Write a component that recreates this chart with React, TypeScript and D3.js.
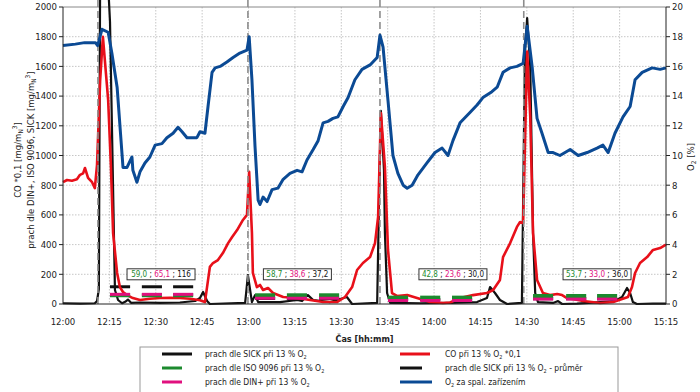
import React from "react";
import * as d3 from "d3";

const W = 700;
const H = 392;
const plot = { left: 63, right: 666, top: 7, bottom: 304 };
const FONT = "'DejaVu Sans Condensed', 'Liberation Sans Narrow', Arial, sans-serif";

// osa x: minuty od 12:00
const xTickLabels = ["12:00", "12:15", "12:30", "12:45", "13:00", "13:15", "13:30", "13:45", "14:00", "14:15", "14:30", "14:45", "15:00", "15:15"];
const leftTicks = [0, 200, 400, 600, 800, 1000, 1200, 1400, 1600, 1800, 2000];
const rightTicks = [0, 2, 4, 6, 8, 10, 12, 14, 16, 18, 20];

// O2 za spal. zarizenim [%]
const o2Data: [number, number][] = [
  [0, 17.4], [4, 17.5], [7, 17.6], [9, 17.6], [10.5, 17.6], [11.2, 17.4], [12.6, 18.5], [14.6, 18.3], [15.8, 16.9],
  [17.5, 14.6], [19.4, 9.2], [20.7, 9.2], [22.3, 9.9], [22.6, 9.0], [23.9, 8.2], [24.9, 8.9], [26.5, 9.5], [28.1, 9.9],
  [29.8, 10.7], [32.0, 10.8], [33.6, 11.2], [35.6, 11.5], [37.2, 11.9], [38.5, 11.6], [40.1, 11.2], [41.7, 11.2],
  [43.3, 11.2], [44.3, 11.6], [45.9, 11.5], [46.9, 13.3], [48.2, 15.6], [49.2, 15.9], [50.8, 16.0], [53.0, 16.3],
  [55.0, 16.6], [57.2, 16.9], [59.5, 17.1], [60.2, 18.0], [61.1, 15.1], [62.1, 10.6], [63.1, 7.0], [63.7, 6.7],
  [64.7, 7.2], [66.0, 6.9], [67.6, 7.7], [69.5, 7.8], [71.2, 8.4], [73.4, 8.8], [75.7, 9.0], [77.3, 8.9], [78.9, 9.7],
  [80.9, 10.4], [82.5, 11.0], [84.1, 12.2], [85.7, 12.3], [87.3, 12.5], [88.9, 12.6], [90.6, 13.3], [92.2, 13.9],
  [94.4, 15.1], [96.7, 15.8], [99.3, 16.1], [101.6, 16.6], [102.5, 18.1], [103.5, 17.3], [105.1, 13.7], [106.7, 10.0],
  [108.3, 8.8], [110, 8.0], [111.3, 7.8], [112.9, 8.0], [114.8, 8.7], [117.7, 9.5], [120.3, 10.2], [122.6, 10.5],
  [124.5, 10.0], [126.1, 11.0], [128.4, 12.2], [131.6, 12.9], [133.9, 13.4], [135.8, 13.9], [138.7, 14.3], [140.4, 14.6],
  [142.3, 15.6], [144.6, 15.9], [146.8, 16.0], [148.8, 16.2], [150.1, 18.7], [151.7, 16.0], [153.3, 12.5], [154.9, 11.5],
  [156.9, 10.2], [158.5, 10.2], [160.7, 10.0], [164.0, 10.4], [166.6, 10.0], [169.5, 10.2], [172.7, 10.5], [174.6, 10.7],
  [176.3, 10.2], [178.5, 11.5], [181.1, 12.6], [183.4, 13.3], [185.0, 15.1], [187.3, 15.6], [190.5, 15.9], [193.1, 15.8],
  [195, 15.9],
];

// CO pri 13 % O2 * 0,1
const coData: [number, number][] = [
  [0, 820], [1.3, 835], [2.9, 830], [4.5, 840], [5.5, 870], [6.5, 880], [7.1, 916], [8.1, 850], [9.4, 820], [10.3, 780],
  [11.0, 936], [12.0, 1500], [12.9, 1800], [14.6, 1374], [15.5, 923], [16.2, 478], [17.5, 209], [18.4, 114], [19.4, 81],
  [20.7, 60], [22.6, 40], [24.9, 27], [28.1, 35], [31.4, 40], [34.6, 42], [37.8, 40], [41.1, 35], [44.3, 25], [45.9, 13],
  [47.5, 250], [48.5, 276], [50.1, 296], [51.7, 343], [53.4, 410], [54.7, 451], [56.3, 498], [58.2, 566], [59.5, 600],
  [60.2, 890], [61.1, 478], [61.4, 209], [62.7, 114], [63.7, 128], [64.7, 94], [66.3, 108], [67.9, 74], [71.2, 47],
  [75.7, 40], [79.9, 27], [84.1, 13], [88.6, 13], [91.2, 47], [93.5, 114], [95.1, 229], [97.0, 276], [99.3, 316],
  [100.9, 410], [101.9, 586], [102.8, 1286], [104.1, 923], [105.1, 364], [106.4, 74], [108.0, 54], [111.3, 60],
  [114.5, 40], [118.7, 13], [122.9, 7], [125.2, 10], [128.4, 40], [132.6, 60], [137.1, 74], [139.1, 94], [141.3, 162],
  [142.3, 316], [144.6, 410], [146.8, 519], [147.8, 552], [148.8, 545], [150.1, 1700], [151.1, 1260], [152.0, 478],
  [153.3, 162], [155.2, 74], [157.5, 60], [159.8, 67], [161.4, 60], [163.0, 40], [168.2, 20], [173.7, 7], [177.9, 13],
  [180.8, 34], [182.7, 47], [184.0, 114], [185.0, 209], [186.6, 276], [188.9, 316], [190.8, 364], [193.1, 377], [195, 400],
];

// prach dle SICK pri 13 % O2
const sickData: [number, number][] = [
  [0, 5], [5.5, 3], [10.3, 5], [11.0, 20], [11.6, 100], [12.0, 2150], [14.6, 2150], [15.2, 1900], [16.8, 94], [17.8, 27],
  [19.1, 5], [20.1, 15], [21.0, 30], [22.0, 8], [24.9, 10], [31.4, 8], [37.8, 10], [42.7, 20], [44.3, 40], [45.3, 81],
  [46.6, 20], [47.5, 0], [58.9, 7], [59.8, 195], [61.1, 13], [62.1, 60], [63.1, 13], [70.2, 13], [75.7, 27], [77.3, 20],
  [79.2, 60], [80.9, 27], [86.4, 13], [91.8, 47], [93.5, 0], [101.6, 7], [102.2, 700], [102.8, 1300], [103.8, 900],
  [104.1, 478], [104.8, 74], [105.8, 7], [115.5, 5], [125.2, 8], [133.9, 13], [137.1, 40], [138.1, 114], [139.7, 74],
  [141.3, 27], [143.6, 0], [148.4, 7], [149.4, 1710], [150.1, 1925], [151.1, 1596], [152.0, 478], [152.7, 74],
  [153.6, 13], [158.5, 7], [160.1, 20], [161.4, 0], [166.2, 3], [173.7, 13], [178.5, 20], [180.8, 47], [182.4, 108],
  [183.4, 74], [184.3, 13], [185.6, 0], [190.8, 2], [195, 3],
];

const testStarts = [11.3, 59.8, 102.5, 149.0];
const windowStarts = [
  [15.2, 25.5, 35.6],
  [62.1, 72.4, 82.8],
  [105.1, 115.5, 125.8],
  [152.0, 162.7, 172.7],
];
const windowLen = 6.5;
const isoAvg = [59.0, 58.7, 42.8, 53.7];
const dinAvg = [65.1, 38.6, 23.6, 33.0];
const sickAvg = [116, 37.2, 30.0, 36.0];
const boxTimes = [31.7, 75.8, 126.1, 172.7];

const BLACK = "#111";
const RED = "#e8101a";
const BLUE = "#0b4a94";
const GREEN = "#1c8a2e";
const MAGENTA = "#e0107e";

const fmt = (v: number) => (v >= 100 ? d3.format(".0f")(v) : d3.format(".1f")(v)).replace(".", ",");

const Sub = ({ children }: { children: React.ReactNode }) => (
  <>
    <tspan dy={2} fontSize="0.7em">{children}</tspan>
    <tspan dy={-2}>{"\u200b"}</tspan>
  </>
);

export default function App() {
  const x = d3.scaleLinear().domain([0, 195]).range([plot.left, plot.right]);
  const yL = d3.scaleLinear().domain([0, 2000]).range([plot.bottom, plot.top]);
  const yR = d3.scaleLinear().domain([0, 20]).range([plot.bottom, plot.top]);

  const lineL = d3.line<[number, number]>().x(d => x(d[0])).y(d => yL(d[1]));
  const lineR = d3.line<[number, number]>().x(d => x(d[0])).y(d => yR(d[1]));

  const boxW = 68;
  const boxH = 11;

  const legendItems = [
    { col: 0, row: 0, color: BLACK, len: 30, label: ["prach dle SICK při 13 % O", "2", ""] },
    { col: 0, row: 1, color: GREEN, len: 20, label: ["prach dle ISO 9096 při 13 % O", "2", ""] },
    { col: 0, row: 2, color: MAGENTA, len: 20, label: ["prach dle DIN+ při 13 % O", "2", ""] },
    { col: 1, row: 0, color: RED, len: 30, label: ["CO při 13 % O", "2", " *0,1"] },
    { col: 1, row: 1, color: BLACK, len: 22, label: ["prach dle SICK při 13 % O", "2", " - průměr"] },
    { col: 1, row: 2, color: BLUE, len: 32, label: ["O", "2", " za spal. zařízením"] },
  ];

  return (
    <>
      <style>{`body{margin:0}`}</style>
      <svg width={W} height={H} style={{ display: "block", fontFamily: FONT, background: "#fff" }}>
        {/* grid */}
        <g stroke="#b8b8b8" strokeWidth={0.8} strokeDasharray="1.5,1.5">
          {leftTicks.slice(1, -1).map(t => (
            <line key={"gy" + t} x1={plot.left} x2={plot.right} y1={yL(t)} y2={yL(t)} />
          ))}
          {xTickLabels.slice(1, -1).map((_, i) => (
            <line key={"gx" + i} x1={x((i + 1) * 15)} x2={x((i + 1) * 15)} y1={plot.top} y2={plot.bottom} />
          ))}
        </g>
        <line x1={plot.left} x2={plot.right} y1={plot.top} y2={plot.top} stroke="#888" strokeWidth={1} />

        {/* prumer SICK */}
        {windowStarts.map((ws, p) =>
          ws.map((t, j) => (
            <line key={`sa${p}${j}`} x1={x(t)} x2={x(t + windowLen)} y1={yL(sickAvg[p])} y2={yL(sickAvg[p])}
              stroke={BLACK} strokeWidth={3} />
          ))
        )}

        <path d={lineL(sickData) || ""} fill="none" stroke={BLACK} strokeWidth={2.2} strokeLinejoin="round" />
        <path d={lineL(coData) || ""} fill="none" stroke={RED} strokeWidth={2.6} strokeLinejoin="round" />

        {/* zacatky zkousek */}
        {testStarts.map((t, i) => (
          <line key={"ts" + i} x1={x(t)} x2={x(t)} y1={0} y2={plot.bottom} stroke="#8c8c8c" strokeWidth={1.6}
            strokeDasharray="7,4" />
        ))}

        <path d={lineR(o2Data) || ""} fill="none" stroke={BLUE} strokeWidth={3} strokeLinejoin="round" />

        {/* ISO 9096 a DIN+ */}
        {windowStarts.map((ws, p) =>
          ws.map((t, j) => (
            <g key={`w${p}${j}`}>
              <line x1={x(t)} x2={x(t + windowLen)} y1={yL(isoAvg[p])} y2={yL(isoAvg[p])} stroke={GREEN} strokeWidth={4} />
              <line x1={x(t)} x2={x(t + windowLen)} y1={yL(dinAvg[p])} y2={yL(dinAvg[p])} stroke={MAGENTA} strokeWidth={3} />
            </g>
          ))
        )}

        {/* popisky prumeru */}
        {boxTimes.map((t, p) => (
          <g key={"b" + p} transform={`translate(${x(t)},${yL(200)})`}>
            <rect x={-boxW / 2} y={-boxH / 2} width={boxW} height={boxH} fill="#fff" stroke="#333" strokeWidth={1} />
            <text textAnchor="middle" dy="0.35em" fontSize={8} fill={BLACK}>
              <tspan fill={GREEN}>{fmt(isoAvg[p])}</tspan>
              <tspan>{" ; "}</tspan>
              <tspan fill={MAGENTA}>{fmt(dinAvg[p])}</tspan>
              <tspan>{" ; "}</tspan>
              <tspan>{fmt(sickAvg[p])}</tspan>
            </text>
          </g>
        ))}

        {/* osy */}
        <line x1={plot.left} x2={plot.left} y1={plot.top} y2={plot.bottom} stroke="#222" />
        <line x1={plot.right} x2={plot.right} y1={plot.top} y2={plot.bottom} stroke="#222" />
        <line x1={plot.left} x2={plot.right} y1={plot.bottom} y2={plot.bottom} stroke="#222" />
        <g fontSize={9.5} fill="#222">
          {leftTicks.map(t => (
            <g key={"lt" + t}>
              <line x1={plot.left - 4} x2={plot.left} y1={yL(t)} y2={yL(t)} stroke="#222" />
              <text x={plot.left - 6} y={yL(t)} dy="0.35em" textAnchor="end">{t}</text>
            </g>
          ))}
          {rightTicks.map(t => (
            <g key={"rt" + t}>
              <line x1={plot.right} x2={plot.right + 4} y1={yR(t)} y2={yR(t)} stroke="#222" />
              <text x={plot.right + 6} y={yR(t)} dy="0.35em" textAnchor="start">{t}</text>
            </g>
          ))}
          {xTickLabels.map((lab, i) => (
            <text key={"xt" + i} x={x(i * 15)} y={plot.bottom + 21} textAnchor="middle">{lab}</text>
          ))}
        </g>

        {/* nazvy os */}
        <g fontSize={9.5} fill="#222" textAnchor="middle">
          <text transform={`translate(21,160) rotate(-90)`}>
            CO *0,1 [mg/m<tspan dy={2} fontSize={6.5}>N</tspan><tspan dy={-6} fontSize={6.5}>3</tspan><tspan dy={4}>]</tspan>
          </text>
          <text transform={`translate(34,160) rotate(-90)`}>
            prach dle DIN+, ISO 9096, SICK [mg/m<tspan dy={2} fontSize={6.5}>N</tspan><tspan dy={-6} fontSize={6.5}>3</tspan><tspan dy={4}>]</tspan>
          </text>
          <text transform={`translate(694,157) rotate(-90)`}>
            O<tspan dy={2} fontSize={6.5}>2</tspan><tspan dy={-2}> [%]</tspan>
          </text>
          <text x={(plot.left + plot.right) / 2} y={342} fontWeight="bold" fontSize={9}>Čas [hh:mm]</text>
        </g>

        {/* legenda */}
        <rect x={140} y={347} width={478} height={52} fill="#fff" stroke="#999" strokeWidth={1} />
        <g fontSize={8.5} fill="#222">
          {legendItems.map((it, i) => {
            const lx = it.col === 0 ? 162 : 400;
            const tx = it.col === 0 ? 205 : 445;
            const ly = 354 + it.row * 14;
            return (
              <g key={"lg" + i}>
                <line x1={lx} x2={lx + it.len} y1={ly} y2={ly} stroke={it.color} strokeWidth={3} />
                <text x={tx} y={ly} dy="0.35em">
                  {it.label[0]}
                  <tspan dy={2} fontSize={5.5}>{it.label[1]}</tspan>
                  <tspan dy={-2}>{it.label[2]}</tspan>
                </text>
              </g>
            );
          })}
        </g>
      </svg>
    </>
  );
}
